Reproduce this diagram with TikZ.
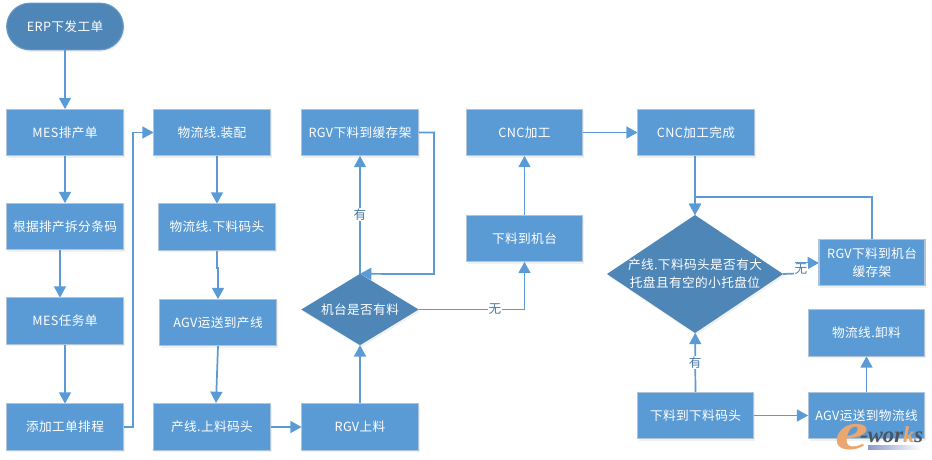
\documentclass[tikz,border=0pt]{standalone}
\usepackage{fontspec}
\setmainfont[LetterSpace=3]{Noto Sans CJK SC}
\newfontfamily\markfont{Liberation Serif}
\usetikzlibrary{arrows.meta}
\usetikzlibrary{backgrounds}
\usetikzlibrary{shadows}
\usetikzlibrary{shapes.geometric}
\definecolor{boxblue}{HTML}{5B9BD5}
\definecolor{darkblue}{HTML}{4E86B8}
\definecolor{edgegrey}{HTML}{AFC4DA}
\definecolor{markorange}{HTML}{E9A76F}
\definecolor{markdark}{HTML}{4A5560}
\definecolor{markbar}{HTML}{8C9AD0}

\begin{document}
\begin{tikzpicture}[x=0.75pt, y=-0.75pt, font=\fontsize{9.5}{13.5}\selectfont]
            \tikzstyle{stepbox} = [draw=edgegrey, line width=0.8pt, fill=boxblue, text=white, align=center, minimum width=87.5pt, minimum height=35pt, inner sep=0pt, outer sep=0pt, drop shadow={opacity=0.12, shadow xshift=1pt, shadow yshift=-1.5pt}]
            \tikzstyle{startbox} = [stepbox, draw=darkblue!85!white, fill=darkblue, rounded corners=17.5pt]
            \tikzstyle{choice} = [shape=diamond, fill=darkblue, inner sep=0pt, outer sep=0pt, drop shadow={opacity=0.12, shadow xshift=1pt, shadow yshift=-1.5pt}]
            \tikzstyle{choicetext} = [text=white, align=center, inner sep=0pt]
            \tikzstyle{line} = [draw=boxblue, line width=1.3pt, -{Triangle[length=8.5pt, width=9pt]}]
            \tikzstyle{tag} = [fill=white, text=boxblue!80!black, inner sep=0.5pt]
            \useasboundingbox (0, 0) rectangle (932, 460);
            % first column
            \node[startbox] (erp) at (65, 26.5) {ERP下发工单};
            \node[stepbox] (mesorder) at (65, 132.5) {MES排产单};
            \node[stepbox] (split) at (65, 226.5) {根据排产拆分条码};
            \node[stepbox] (mestask) at (65, 321) {MES任务单};
            \node[stepbox] (schedule) at (65, 427) {添加工单排程};
            % second column
            \node[stepbox] (assemble) at (212, 132.5) {物流线.装配};
            \node[stepbox] (unloadhead) at (217, 227) {物流线.下料码头};
            \node[stepbox] (agvline) at (218, 322.5) {AGV运送到产线};
            \node[stepbox] (loadhead) at (212, 427) {产线.上料码头};
            % third column
            \node[stepbox] (rgvbuffer) at (360, 132.5) {RGV下料到缓存架};
            \node[choice, minimum width=88pt, minimum height=53.5pt, label={[choicetext]center:机台是否有料}] (hasitem) at (360, 309.5) {};
            \node[stepbox] (rgvload) at (360, 427) {RGV上料};
            % fourth column
            \node[stepbox] (cnc) at (524.5, 132.5) {CNC加工};
            \node[stepbox] (tomachine) at (524.5, 238.5) {下料到机台};
            % right part
            \node[stepbox] (cncdone) at (696, 132.5) {CNC加工完成};
            \node[choice, minimum width=132pt, minimum height=88.5pt, label={[choicetext]center:产线.下料码头是否有大\\托盘且有空的小托盘位}] (hastray) at (695, 274) {};
            \node[stepbox, minimum width=79.5pt] (rgvmachine) at (872, 262.5) {RGV下料到机台\\缓存架};
            \node[stepbox] (unload) at (866.5, 333) {物流线.卸料};
            \node[stepbox] (todown) at (695.5, 415.5) {下料到下料码头};
            \node[stepbox] (agvback) at (866.5, 415.5) {AGV运送到物流线};
            % helper points
            \coordinate (splitout) at (60, 250);
            \coordinate (schedturn) at (133, 427);
            \coordinate (unloadjog) at (217, 268);
            \coordinate (agvjog) at (218, 268);
            \coordinate (agvout) at (218, 346);
            \coordinate (loadin) at (216, 403);
            \coordinate (bufferturn) at (434, 132.5);
            \coordinate (bufferdown) at (434, 274);
            \coordinate (topmerge) at (695, 197);
            \coordinate (rgvup) at (872, 197);
            \coordinate (trayjog) at (796, 273.5);
            \coordinate (rgvin) at (796, 263);
            \begin{pgfonlayer}{background}
                \draw[line] (erp) -- (mesorder);
                \draw[line] (mesorder) -- (split);
                \draw[line] (splitout) -- (splitout |- mestask.north);
                \draw[line] (mestask) -- (schedule);
                \draw[line] (schedule.east) -- (schedturn) |- (assemble.west);
                \draw[line] (217, 156) -- (unloadhead.north);
                \draw[line] (217, 250) -- (unloadjog) -- (agvjog) -- (agvline.north);
                \draw[line] (agvout) -- (loadin);
                \draw[line] (loadhead) -- (rgvload);
                \draw[line] (rgvload) -- (hasitem);
                \draw[line] (hasitem) -- node[tag, pos=0.5] {有} (rgvbuffer);
                \draw[line] (rgvbuffer.east) -- (bufferturn) -- (bufferdown) -- (hasitem.north);
                \draw[line] (hasitem.east) -| node[tag, pos=0.36] {无} (tomachine.south);
                \draw[line] (tomachine) -- (cnc);
                \draw[line] (cnc) -- (cncdone);
                \draw[line] (695, 156) -- (hastray.north);
                \draw[line] (rgvmachine.north) -- (rgvup) -- (topmerge) -- (hastray.north);
                \draw[line] (hastray.east) -- (trayjog) -- (rgvin) -- (rgvin -| rgvmachine.west);
                \node[tag] (notag) at (801, 269) {无};
                \draw[line] (todown) -- node[tag, pos=0.5] {有} (hastray);
                \draw[line] (todown) -- (agvback);
                \draw[line] (agvback) -- (unload);
            \end{pgfonlayer}
            % watermark
            \shade[left color=markbar, right color=white] (868, 445) rectangle (922, 449);
            \node[inner sep=0pt, text=markorange] (marke) at (852, 449) {\smash{\markfont\bfseries\itshape\fontsize{40}{40}\selectfont\scalebox{1.4}[1]{e}}};
            \node[inner sep=0pt, text=markdark, anchor=west] (markworks) at (860, 442) {\smash{\markfont\bfseries\itshape\fontsize{17}{17}\selectfont -wor{\color{markorange}k}s}};
        \end{tikzpicture}
\end{document}
